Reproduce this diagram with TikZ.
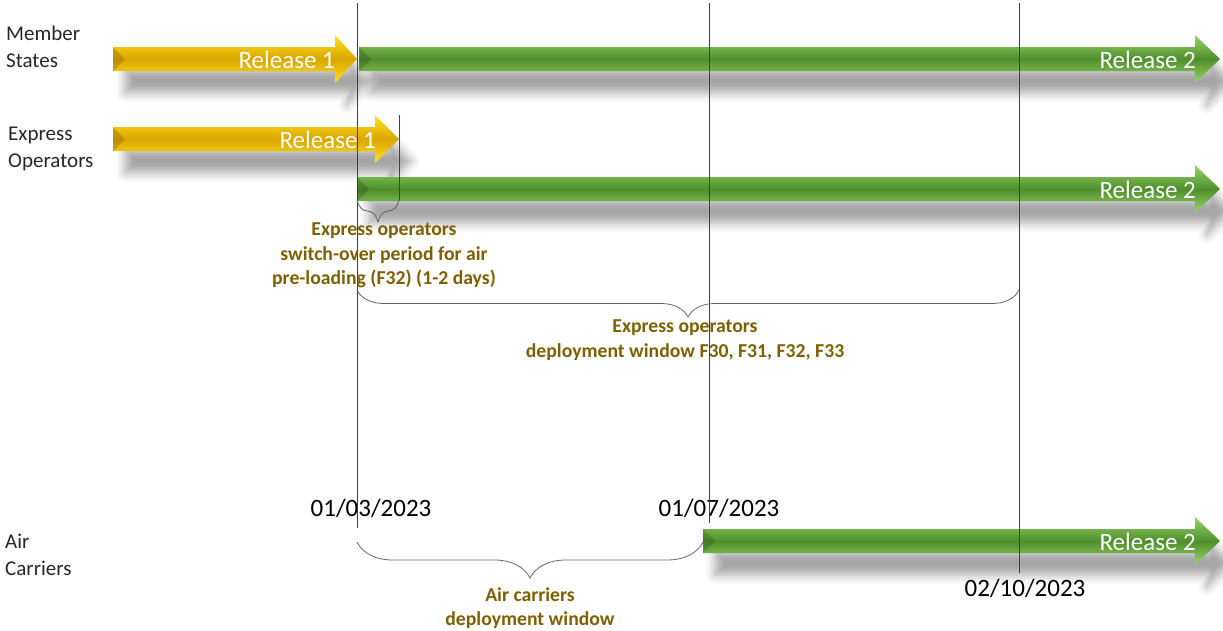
\documentclass[tikz,border=0pt]{standalone}
\usepackage{fontspec}
\setmainfont{Carlito}
\usetikzlibrary{decorations.pathreplacing,shadows.blur}
\definecolor{olivetext}{HTML}{7F6000}
\definecolor{gold1}{HTML}{FFE21A}
\definecolor{gold2}{HTML}{DCA600}
\definecolor{green1}{HTML}{9AD767}
\definecolor{green2}{HTML}{4E8E2C}
\definecolor{linegray}{HTML}{3F3F3F}

\begin{document}
\begin{tikzpicture}[x=1pt,y=-1pt,
	yellowarrow/.style={top color=gold1, bottom color=gold1, middle color=gold2,
		blur shadow={shadow xshift=12pt, shadow yshift=-22pt, shadow blur radius=9pt, shadow opacity=35}},
	greenarrow/.style={top color=green1, bottom color=green1, middle color=green2,
		blur shadow={shadow xshift=12pt, shadow yshift=-22pt, shadow blur radius=9pt, shadow opacity=35}},
	bevel/.style={fill=black, fill opacity=0.15},
	reltext/.style={white, anchor=east, inner sep=0pt, font=\fontsize{25}{29}\selectfont},
	rowtext/.style={anchor=north west, align=left, inner sep=0pt, text=black!85, font=\fontsize{21}{27}\selectfont},
	datetext/.style={inner sep=0pt, font=\fontsize{25}{30}\selectfont},
	windowtext/.style={anchor=north, align=center, inner sep=0pt, text=olivetext, font=\bfseries\fontsize{19.7}{24.5}\selectfont},
	timeline/.style={linegray, line width=0.9pt},
	windowbrace/.style={gray!80!black, line width=0.8pt, decorate}]
	\useasboundingbox (0,0) rectangle (1223,630);

	% Member States
	\path [yellowarrow] (113,47) -- (335,47) -- (335,35) -- (357,59) -- (335,83) -- (335,71) -- (113,71) -- cycle;
	\path [bevel] (113,47) -- (125,59) -- (113,71) -- cycle;
	\path [greenarrow] (359,47) -- (1195,47) -- (1195,35) -- (1220,59) -- (1195,83) -- (1195,71) -- (359,71) -- cycle;
	\path [bevel] (359,47) -- (371,59) -- (359,71) -- cycle;
	\node [reltext] (ms1) at (335,60) {Release 1};
	\node [reltext] (ms2) at (1196,60) {Release 2};

	% Express Operators
	\path [yellowarrow] (113,127) -- (375,127) -- (375,115) -- (399,139) -- (375,163) -- (375,151) -- (113,151) -- cycle;
	\path [bevel] (113,127) -- (125,139) -- (113,151) -- cycle;
	\path [greenarrow] (357,177) -- (1195,177) -- (1195,165) -- (1220,189) -- (1195,213) -- (1195,201) -- (357,201) -- cycle;
	\path [bevel] (357,177) -- (369,189) -- (357,201) -- cycle;
	\node [reltext] (eo1) at (376,140) {Release 1};
	\node [reltext] (eo2) at (1196,190) {Release 2};

	% Air Carriers
	\path [greenarrow] (703,529) -- (1195,529) -- (1195,517) -- (1220,541) -- (1195,565) -- (1195,553) -- (703,553) -- cycle;
	\path [bevel] (703,529) -- (715,541) -- (703,553) -- cycle;
	\node [reltext] (ac2) at (1196,542) {Release 2};

	% Row labels
	\node [rowtext] (members) at (6,26) {Member\\States};
	\node [rowtext] (express) at (8,127) {Express\\Operators};
	\node [rowtext] (carriers) at (5,534) {Air\\Carriers};

	% Dates
	\node [datetext] (march) at (371,508) {01/03/2023};
	\node [datetext] (july) at (719,508) {01/07/2023};
	\node [datetext] (october) at (1025,588) {02/10/2023};

	% Vertical lines
	\coordinate (marchtop) at (357,3);
	\coordinate (marchend) at (357,528);
	\coordinate (julytop) at (709,3);
	\coordinate (julyend) at (709,523);
	\coordinate (octtop) at (1019,3);
	\coordinate (octend) at (1019,573);
	\coordinate (switchtop) at (399,115);
	\coordinate (switchend) at (399,200);
	\draw [timeline] (marchtop) -- (marchend);
	\draw [timeline] (julytop) -- (julyend);
	\draw [timeline] (octtop) -- (octend);
	\draw [timeline] (switchtop) -- (switchend);

	% Braces
	\draw [windowbrace, decoration={brace, amplitude=22pt}] (399,200) -- (357,200);
	\draw [windowbrace, decoration={brace, amplitude=27pt}] (1019,290) -- (357,290);
	\draw [windowbrace, decoration={brace, amplitude=36pt}] (703,542) -- (357,542);

	\node [windowtext] (switchover) at (384,223) {Express operators\\switch-over period for air\\pre-loading (F32) (1-2 days)};
	\node [windowtext] (eowindow) at (685,320) {Express operators\\deployment window F30, F31, F32, F33};
	\node [windowtext] (acwindow) at (530,587) {Air carriers\\deployment window};
\end{tikzpicture}
\end{document}
